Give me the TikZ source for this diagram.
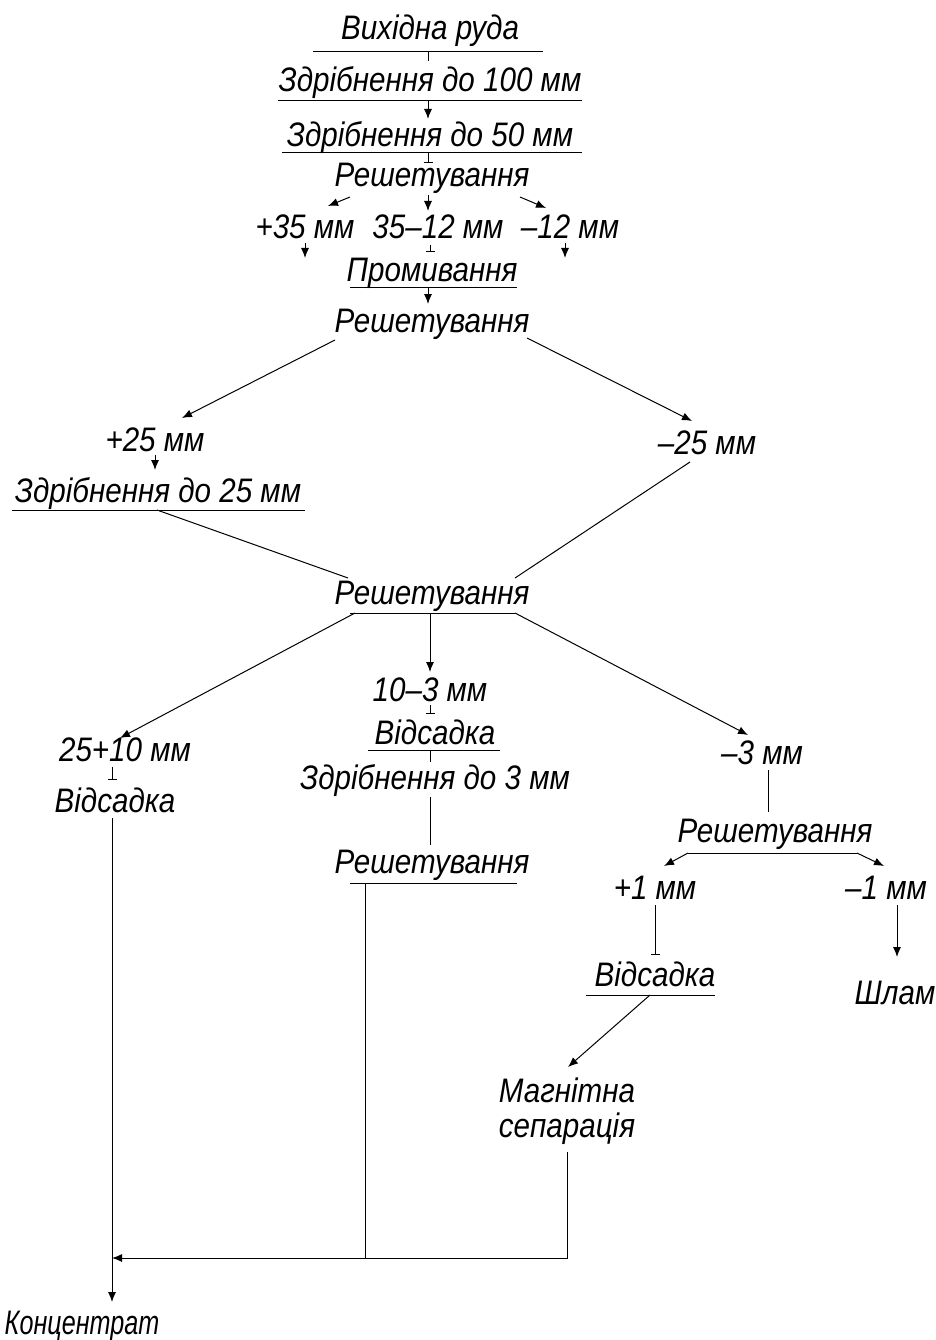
\documentclass[tikz,border=0pt]{standalone}
\usepackage{fontspec}
\setmainfont{Liberation Sans}[FakeStretch=0.87]
\newfontfamily\narrowfont{Liberation Sans}[FakeStretch=0.74]
\usetikzlibrary{arrows.meta}
\begin{document}
\begin{tikzpicture}[x=1pt,y=-1pt,
  lbl/.style={font=\fontsize{34}{40}\selectfont\itshape, inner sep=0pt, anchor=base},
  ln/.style={line width=1pt},
  arr/.style={ln,-{Latex[length=10pt,width=8pt]}},
  barend/.style={ln,-{Bar[width=9pt]}}]
\useasboundingbox (0,0) rectangle (935,1340);
% nodes
\node[lbl] (n1) at (430,40) {Вихідна руда};
\node[lbl] (n2) at (430,92) {Здрібнення до 100 мм};
\node[lbl] (n3) at (430,147) {Здрібнення до 50 мм};
\node[lbl] (n4) at (432,187) {Решетування};
\node[lbl] (n5a) at (305,239) {+35 мм};
\node[lbl] (n5b) at (438,239) {35–12 мм};
\node[lbl] (n5c) at (570,239) {–12 мм};
\node[lbl] (n6) at (432,281) {Промивання};
\node[lbl] (n7) at (432,332) {Решетування};
\node[lbl] (n8a) at (155,451) {+25 мм};
\node[lbl] (n8b) at (707,454) {–25 мм};
\node[lbl] (n9) at (158,502) {Здрібнення до 25 мм};
\node[lbl] (n10) at (432,604) {Решетування};
\node[lbl] (n11) at (430,701) {10–3 мм};
\node[lbl] (n12) at (435,744) {Відсадка};
\node[lbl] (n13) at (435,789) {Здрібнення до 3 мм};
\node[lbl] (n14) at (432,873) {Решетування};
\node[lbl] (n15) at (125,761) {25+10 мм};
\node[lbl] (n16) at (115,812) {Відсадка};
\node[lbl] (n17) at (762,764) {–3 мм};
\node[lbl] (n18) at (775,842) {Решетування};
\node[lbl] (n19a) at (655,899) {+1 мм};
\node[lbl] (n19b) at (886,899) {–1 мм};
\node[lbl] (n20) at (655,986) {Відсадка};
\node[lbl] (n21) at (895,1004) {Шлам};
\node[lbl] (n22) at (567,1102) {Магнітна};
\node[lbl] (n22b) at (567,1137) {сепарація};
\node[lbl, font=\narrowfont\fontsize{34}{40}\selectfont\itshape] (n23) at (82,1334) {Концентрат};
% underlines
\draw[ln] (313,52) -- (543,52);
\draw[ln] (278,101) -- (582,101);
\draw[ln] (282,153) -- (582,153);
\draw[ln] (350,287) -- (517,287);
\draw[ln] (12,510) -- (305,510);
\draw[ln] (350,613) -- (515,613);
\draw[ln] (368,750) -- (500,750);
\draw[ln] (350,883) -- (517,883);
\draw[ln] (688,853) -- (857,853);
\draw[ln] (586,995) -- (715,995);
% connectors
\draw[ln] (428,52) -- (428,61);
\draw[arr] (428,101) -- (428,119);
\draw[barend] (428,153) -- (428,163);
\draw[arr] (350,197) -- (328,206);
\draw[arr] (428,195) -- (428,211);
\draw[arr] (520,197) -- (546,208);
\draw[arr] (305,243) -- (305,258);
\draw[barend] (430,245) -- (430,252);
\draw[arr] (565,243) -- (565,258);
\draw[arr] (428,287) -- (428,304);
\draw[arr] (335,340) -- (182,418);
\draw[arr] (527,338) -- (692,421);
\draw[arr] (155,455) -- (155,470);
\draw[ln] (157,510) -- (348,578);
\draw[ln] (690,462) -- (515,578);
\draw[arr] (355,613) -- (120,738);
\draw[arr] (430,613) -- (430,672);
\draw[arr] (515,613) -- (748,735);
\draw[barend] (430,705) -- (430,714);
\draw[ln] (430,750) -- (430,762);
\draw[ln] (430,797) -- (430,845);
\draw[ln] (365,883) -- (365,1258);
\draw[barend] (112,767) -- (112,780);
\draw[arr] (112,818) -- (112,1302);
\draw[ln] (768,770) -- (768,812);
\draw[arr] (688,853) -- (664,866);
\draw[arr] (857,853) -- (884,866);
\draw[barend] (655,905) -- (655,955);
\draw[arr] (897,905) -- (897,957);
\draw[arr] (650,995) -- (568,1067);
\draw[ln] (567,1152) -- (567,1258) -- (365,1258);
\draw[arr] (365,1258) -- (112,1258);
\end{tikzpicture}
\end{document}
